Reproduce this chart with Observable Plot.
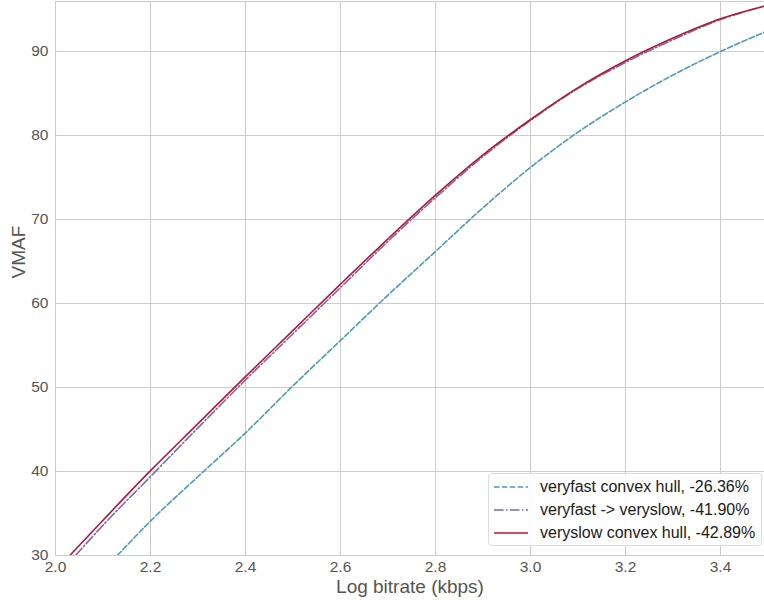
<!DOCTYPE html>
<html>
<head>
<meta charset="utf-8">
<script src="https://cdn.jsdelivr.net/npm/d3@7"></script>
<script src="https://cdn.jsdelivr.net/npm/@observablehq/plot@0.6"></script>
<style>
  body { margin: 0; background: #fff; font-family: "Liberation Sans", Arial, sans-serif; }
  #wrap { position: relative; width: 764px; height: 600px; }
  #legend { position: absolute; left: 488px; top: 473px; width: 274px; height: 73px;
    background: rgba(255,255,255,0.9); border: 1px solid #dcdcdc; border-radius: 4px; box-sizing: border-box;
    font-size: 16px; color: #1a1a1a; }
  .row { position: absolute; left: 4px; height: 20px; display: flex; align-items: center; }
  .row svg { margin-right: 11px; }
</style>
</head>
<body>
<div id="wrap"></div>
<script>
const seriesNames = ["veryfast convex hull, -26.36%", "veryfast -> veryslow, -41.90%", "veryslow convex hull, -42.89%"];
const seriesColors = ["#4a98c9", "#7a6aa8", "#b5173a"];
const seriesDash = ["5.5,2.4", "9.6,2.4,1.5,2.4", null];

const fastBitrate = [2.13, 2.2, 2.3, 2.4, 2.5, 2.6, 2.7, 2.8, 2.9, 3.0, 3.1, 3.2, 3.3, 3.4, 3.4926];
const fastVmaf    = [30.0, 34.1, 39.4, 44.6, 50.2, 55.6, 61.0, 66.2, 71.4, 76.2, 80.4, 84.0, 87.2, 90.0, 92.3];

const mixBitrate = [2.042, 2.1, 2.2, 2.3, 2.4, 2.5, 2.6, 2.7, 2.8, 2.9, 3.0, 3.1, 3.2, 3.3, 3.4, 3.4926];
const mixVmaf    = [30.0, 33.6, 39.4, 45.2, 50.9, 56.4, 61.9, 67.4, 72.6, 77.5, 81.8, 85.6, 88.7, 91.4, 93.8, 95.4];

const slowBitrate = [2.03, 2.1, 2.2, 2.3, 2.4, 2.5, 2.6, 2.7, 2.8, 2.9, 3.0, 3.1, 3.2, 3.3, 3.4, 3.4926];
const slowVmaf    = [30.0, 34.2, 40.1, 45.7, 51.3, 56.8, 62.3, 67.7, 72.9, 77.7, 81.9, 85.7, 88.9, 91.6, 93.9, 95.4];

const xTicks = [2.0, 2.2, 2.4, 2.6, 2.8, 3.0, 3.2, 3.4];
const yTicks = [30, 40, 50, 60, 70, 80, 90];
const xLabel = "Log bitrate (kbps)";
const yLabel = "VMAF";

const toRows = (xs, ys) => xs.map((x, i) => ({x, y: ys[i]}));
const fast = toRows(fastBitrate, fastVmaf);
const mix = toRows(mixBitrate, mixVmaf);
const slow = toRows(slowBitrate, slowVmaf);

const chart = Plot.plot({
  width: 764,
  height: 600,
  marginLeft: 55,
  marginRight: 0,
  marginTop: 1,
  marginBottom: 45,
  style: { fontFamily: "Liberation Sans, Arial, sans-serif", background: "#fff" },
  x: { domain: [2.0, 3.4926] },
  y: { domain: [30, 95.95] },
  marks: [
    Plot.gridX(xTicks, { stroke: "#cccccc", strokeOpacity: 1, strokeWidth: 1 }),
    Plot.gridY(yTicks, { stroke: "#cccccc", strokeOpacity: 1, strokeWidth: 1 }),
    Plot.frame({ stroke: "#cccccc" }),
    Plot.axisX(xTicks, { tickSize: 0, tickPadding: 5, fontSize: 15.5, fill: "#555", tickFormat: d3.format(".1f"), label: null }),
    Plot.axisY(yTicks, { tickSize: 0, tickPadding: 7, fontSize: 15.5, fill: "#555", label: null }),
    Plot.text([xLabel], { frameAnchor: "bottom", dy: 31, fontSize: 19, fill: "#555", lineAnchor: "middle" }),
    Plot.text([yLabel], { frameAnchor: "left", dx: -37, rotate: -90, fontSize: 19, fill: "#555", lineAnchor: "middle" }),
    Plot.line(fast, { x: "x", y: "y", stroke: seriesColors[0], strokeWidth: 1.6, strokeDasharray: seriesDash[0], curve: "monotone-x", clip: true }),
    Plot.line(mix, { x: "x", y: "y", stroke: seriesColors[1], strokeWidth: 1.6, strokeDasharray: seriesDash[1], curve: "monotone-x", clip: true }),
    Plot.line(slow, { x: "x", y: "y", stroke: seriesColors[2], strokeWidth: 1.6, curve: "monotone-x", clip: true })
  ]
});

const wrap = document.getElementById("wrap");
wrap.appendChild(chart);

const legend = document.createElement("div");
legend.id = "legend";
seriesNames.forEach((name, i) => {
  const row = document.createElement("div");
  row.className = "row";
  row.style.top = (3 + i * 23) + "px";
  const dash = seriesDash[i] ? `stroke-dasharray="${seriesDash[i]}"` : "";
  row.innerHTML = `<svg width="36" height="10"><line x1="1" y1="5" x2="35" y2="5" stroke="${seriesColors[i]}" stroke-width="1.6" ${dash}/></svg><span>${name}</span>`;
  legend.appendChild(row);
});
wrap.appendChild(legend);
</script>
</body>
</html>
